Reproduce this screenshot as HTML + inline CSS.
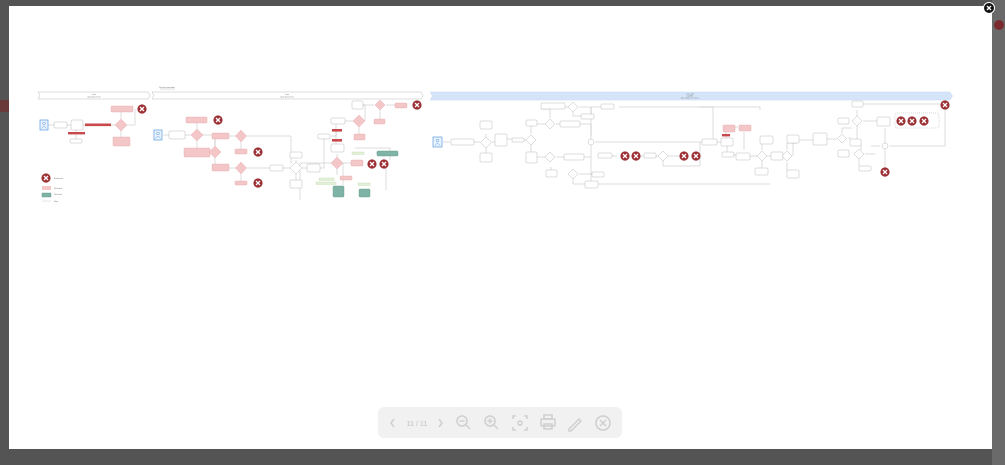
<!DOCTYPE html>
<html><head><meta charset="utf-8"><style>
html,body{margin:0;padding:0;width:1005px;height:465px;overflow:hidden;background:#595959;font-family:"Liberation Sans",sans-serif}
</style></head><body>
<svg width="1005" height="465" viewBox="0 0 1005 465" xmlns="http://www.w3.org/2000/svg" style="position:absolute;left:0;top:0">
<defs>
<g id="x"><circle r="4.6" fill="#9c2f33"/><path d="M-2,-2L2,2M2,-2L-2,2" stroke="#fff" stroke-width="1.3"/></g>
</defs>
<rect x="0" y="0" width="1005" height="465" fill="#545454"/>
<rect x="992" y="0" width="13" height="465" fill="#6a6a6a"/>
<circle cx="999" cy="25" r="5" fill="#7a2a2e"/>
<rect x="0" y="100" width="9" height="12" fill="#6a3a3a"/>
<rect x="9" y="6" width="983" height="443" fill="#fff"/>
<circle cx="989" cy="8" r="5.5" fill="#111" stroke="#fff" stroke-width="1"/>
<path d="M987,6L991,10M991,6L987,10" stroke="#fff" stroke-width="1.3"/>

<rect x="378" y="407" width="244" height="31" rx="6" fill="#f1f1f1"/>
<g stroke="#cfcfcf" stroke-width="1.5" fill="none">
<path d="M394,419l-3,4 3,4"/><path d="M439,419l3,4-3,4"/>
<circle cx="462" cy="421" r="5"/><path d="M466,425l4,4M459.5,421h5"/>
<circle cx="490" cy="421" r="5"/><path d="M494,425l4,4M487.5,421h5M490,418.5v5"/>
<path d="M513,419v-3h3M524,416h3v3M527,427v3h-3M516,430h-3v-3"/><circle cx="520" cy="423" r="2"/>
<rect x="541" y="419" width="14" height="7" rx="1"/><rect x="544" y="415" width="8" height="4"/><rect x="544" y="424" width="8" height="5"/>
<path d="M569,429l10-10 2,2-10,10h-2z"/>
<circle cx="603" cy="423" r="7"/><path d="M600,420l6,6M606,420l-6,6"/>
</g>
<text x="417" y="426" font-size="7" fill="#cfcfcf" font-weight="bold" text-anchor="middle">11 / 11</text>

<text x="167" y="88" font-size="2" fill="#666" text-anchor="middle">Process overview</text>
<line x1="160" y1="89" x2="175" y2="89" stroke="#aaa" stroke-width="0.4"/>

<g stroke="#bbb" stroke-width="0.5" fill="#fff">
<path d="M38,92H148l2,3.5-2,3.5H38l2,-3.5z"/>
<path d="M152,92H421l2,3.5-2,3.5H152l2,-3.5z"/>
<path d="M430,92H950l2.5,4-2.5,4H430l2.5,-4z" fill="#d5e5f9" stroke="#c4d8f2"/>
</g>
<g font-size="2" fill="#777" text-anchor="middle">
<text x="94" y="95">Lane</text><text x="94" y="97.5">description text</text>
<text x="287" y="95">Lane</text><text x="287" y="97.5">description text</text>
<text x="690" y="94.5">Lane title</text><text x="690" y="96.5">subtitle</text><text x="690" y="98.5">description text here</text>
</g>

<g stroke="#b4b4b4" stroke-width="0.45" fill="none">
<path d="M48,125H115M121,109V119M121,131V137M127,125H135V109M76,130V141"/>
<path d="M163,135H191M197,120V129M197,141V148M203,135H215V152M215,146V136M215,158V168M222,168H236M222,136H236M241,141V150M241,173V181M246,136H291V163M246,168H271M283,168H290M296,160V163M296,173V181M302,168H307M319,168H324V136M331,136H336V121M336,130V145M340,121H353M365,121V105H352M362,105H374M386,105H396M380,110V119M359,127V134M343,163H351M337,154V158M337,168V175M331,163H300V200M343,163V185M392,153H376M355,148H390V160M386,168V190"/>
<path d="M443,142H450M474,142H480M486,134V137M486,147V153M492,142H495M507,139H512M524,140H526M531,134V126M531,145V152M537,124H545M556,124H560M537,157H545M556,157H564M550,118V109H541M565,107H568M579,107H601M573,112V116H581M575,124H591V136M584,157H591M551,167V172M579,174H592M573,179V184H585M591,107V184M595,142H702M612,156H617M641,156H644M656,156H658M668,156H679M663,161V166H700V142M700,107H713V142M591,116V107M619,107H760V110M591,184H770"/>
<path d="M717,142H721M726,131V138M732,127H738M744,132V150M727,146V152M734,155H736M750,156H757M762,150V144M762,161V168M767,156H771M783,156H782M787,150V143H797M787,162V172H797M793,156V143M797,140H813M827,139H837M842,133V128H852M848,138H851M857,110V116M863,121H877M857,126V139M861,143V150M865,154H875M859,159V166M871,146H880M885,128V168M890,146H945V110M863,104H940"/>
</g>

<g fill="#c9484c">
<rect x="85" y="123.5" width="26" height="2.6"/>
<rect x="68" y="132" width="17" height="2.4"/>
<rect x="332" y="129" width="10" height="2.6"/>
<rect x="332" y="139" width="10" height="2.6"/>
<rect x="722" y="134" width="8" height="2.4"/>
</g>

<g fill="#f3c6c7" stroke="#e6a6a8" stroke-width="0.4">
<rect x="111" y="106" width="22" height="6" rx="1"/>
<rect x="113" y="137" width="17" height="9" rx="1"/>
<rect x="186" y="117" width="21" height="6" rx="1"/>
<rect x="184" y="148" width="26" height="9" rx="1"/>
<rect x="212" y="133" width="17" height="6" rx="1"/>
<rect x="235" y="149" width="12" height="5" rx="1"/>
<rect x="212" y="164" width="17" height="7" rx="1"/>
<rect x="235" y="181" width="12" height="4" rx="1"/>
<rect x="354" y="134" width="11" height="6" rx="1"/>
<rect x="395" y="103" width="12" height="5" rx="1"/>
<rect x="374" y="119" width="11" height="5" rx="1"/>
<rect x="351" y="160" width="12" height="6" rx="1"/>
<rect x="340" y="176" width="12" height="4" rx="1"/>
<rect x="723" y="125" width="12" height="7" rx="1"/>
<rect x="739" y="125" width="12" height="6" rx="1"/>
<path d="M121,119l6,6-6,6-6-6z"/>
<path d="M197,129l6,6-6,6-6-6z"/>
<path d="M215,146l6,6-6,6-6-6z"/>
<path d="M241,130l5.5,6-5.5,6-5.5-6z"/>
<path d="M241,162l5.5,6-5.5,6-5.5-6z"/>
<path d="M359,115l6,6-6,6-6-6z"/>
<path d="M380,100l5,5-5,5-5-5z"/>
<path d="M337,157l6,6-6,6-6-6z"/>
</g>
<g fill="#7fb3a6" stroke="#5f9a8b" stroke-width="0.4">
<rect x="377" y="151" width="21" height="5" rx="1"/>
<rect x="333" y="186" width="11" height="11" rx="1"/>
<rect x="359" y="189" width="11" height="8" rx="1"/>
<rect x="42" y="193" width="9" height="4"/>
</g>
<g fill="#e3f0d9" stroke="#b5d3a0" stroke-width="0.3">
<rect x="352" y="152" width="12" height="2.5"/>
<rect x="319" y="178" width="15" height="2.5"/>
<rect x="316" y="182" width="20" height="2.5"/>
<rect x="358" y="183" width="12" height="2.5"/>
</g>

<g fill="#fff" stroke="#a8a8a8" stroke-width="0.4">
<rect x="54" y="122" width="13" height="6" rx="1"/>
<rect x="71" y="120" width="12" height="10" rx="1"/>
<rect x="70" y="139" width="12" height="4" rx="1"/>
<rect x="169" y="131" width="16" height="8" rx="1"/>
<rect x="270" y="165" width="13" height="6" rx="1"/>
<rect x="290" y="152" width="12" height="6" rx="1"/>
<rect x="290" y="180" width="12" height="8" rx="1"/>
<rect x="307" y="164" width="13" height="8" rx="1"/>
<rect x="318" y="134" width="12" height="5" rx="1"/>
<rect x="331" y="118" width="14" height="6" rx="1"/>
<rect x="352" y="101" width="11" height="8" rx="1"/>
<rect x="331" y="144" width="13" height="8" rx="1"/>
<rect x="451" y="139" width="23" height="6" rx="1"/>
<rect x="480" y="121" width="12" height="8" rx="1"/>
<rect x="480" y="153" width="12" height="9" rx="1"/>
<rect x="495" y="134" width="12" height="12" rx="1"/>
<rect x="512" y="138" width="12" height="4" rx="1"/>
<rect x="526" y="120" width="11" height="6" rx="1"/>
<rect x="526" y="152" width="11" height="11" rx="1"/>
<rect x="541" y="103" width="24" height="6" rx="1"/>
<rect x="560" y="121" width="20" height="6" rx="1"/>
<rect x="601" y="104" width="13" height="5" rx="1"/>
<rect x="581" y="114" width="13" height="5" rx="1"/>
<rect x="564" y="154" width="20" height="6" rx="1"/>
<rect x="546" y="170" width="11" height="7" rx="1"/>
<rect x="592" y="172" width="12" height="5" rx="1"/>
<rect x="585" y="181" width="13" height="7" rx="1"/>
<rect x="598" y="153" width="14" height="5" rx="1"/>
<rect x="644" y="153" width="12" height="5" rx="1"/>
<rect x="702" y="139" width="15" height="6" rx="1"/>
<rect x="721" y="138" width="12" height="8" rx="1"/>
<rect x="722" y="152" width="12" height="5" rx="1"/>
<rect x="736" y="153" width="14" height="7" rx="1"/>
<rect x="760" y="136" width="13" height="8" rx="1"/>
<rect x="755" y="168" width="13" height="7" rx="1"/>
<rect x="771" y="152" width="12" height="8" rx="1"/>
<rect x="787" y="135" width="12" height="8" rx="1"/>
<rect x="787" y="170" width="12" height="8" rx="1"/>
<rect x="813" y="133" width="14" height="12" rx="1"/>
<rect x="838" y="118" width="11" height="6" rx="1"/>
<rect x="838" y="150" width="11" height="7" rx="1"/>
<rect x="852" y="101" width="11" height="6" rx="1"/>
<rect x="877" y="117" width="13" height="9" rx="1"/>
<rect x="850" y="139" width="11" height="7" rx="1"/>
<rect x="859" y="166" width="12" height="5" rx="1"/>
<path d="M296,162l6,6-6,6-6-6z"/>
<path d="M486,137l5.5,5.5-5.5,5.5-5.5-5.5z"/>
<path d="M531,135l5,5-5,5-5-5z"/>
<path d="M550,119l5,5-5,5-5-5z"/>
<path d="M573,102l5,5-5,5-5-5z"/>
<path d="M550,152l5,5-5,5-5-5z"/>
<path d="M573,169l5,5-5,5-5-5z"/>
<path d="M663,151l5,5-5,5-5-5z"/>
<path d="M762,151l5,5-5,5-5-5z"/>
<path d="M787,151l5,5-5,5-5-5z"/>
<path d="M842,134l4.5,4.5-4.5,4.5-4.5-4.5z"/>
<path d="M857,116l5,5-5,5-5-5z"/>
<path d="M859,149l5,5-5,5-5-5z"/>
<circle cx="591" cy="142" r="3"/><circle cx="885" cy="146" r="3"/>
</g>
<rect x="895" y="113" width="44" height="15" rx="2" fill="none" stroke="#999" stroke-width="0.4" stroke-dasharray="1,1"/>

<g fill="#eaf3fd" stroke="#5d9be0" stroke-width="0.7">
<rect x="40" y="120" width="8" height="10"/>
<rect x="154" y="130" width="8" height="10"/>
<rect x="433" y="137" width="9" height="10"/>
</g>
<g fill="none" stroke="#5d9be0" stroke-width="0.5">
<circle cx="44" cy="123.5" r="1.4"/><path d="M41.5,128.5q2.5,-4 5,0"/>
<circle cx="158" cy="133.5" r="1.4"/><path d="M155.5,138.5q2.5,-4 5,0"/>
<circle cx="437.5" cy="140.5" r="1.4"/><path d="M435,145.5q2.5,-4 5,0"/>
</g>

<use href="#x" x="142" y="109"/>
<use href="#x" x="218" y="120"/>
<use href="#x" x="258" y="152"/>
<use href="#x" x="258" y="183"/>
<use href="#x" x="417" y="105"/>
<use href="#x" x="372" y="164"/>
<use href="#x" x="384" y="164"/>
<use href="#x" x="625" y="156"/>
<use href="#x" x="636" y="156"/>
<use href="#x" x="684" y="156"/>
<use href="#x" x="696" y="156"/>
<use href="#x" x="945" y="105"/>
<use href="#x" x="901" y="121"/>
<use href="#x" x="912" y="121"/>
<use href="#x" x="924" y="121"/>
<use href="#x" x="885" y="172"/>
<use href="#x" x="46" y="178"/>

<rect x="42" y="186" width="9" height="4" fill="#f3c6c7"/>
<line x1="42" y1="201" x2="51" y2="201" stroke="#bbb" stroke-width="0.4"/>
<g font-size="2" fill="#666">
<text x="54" y="179">End event</text>
<text x="54" y="189">Pink task</text>
<text x="54" y="195">Teal task</text>
<text x="54" y="202">Flow</text>
</g>
</svg>
</body></html>
